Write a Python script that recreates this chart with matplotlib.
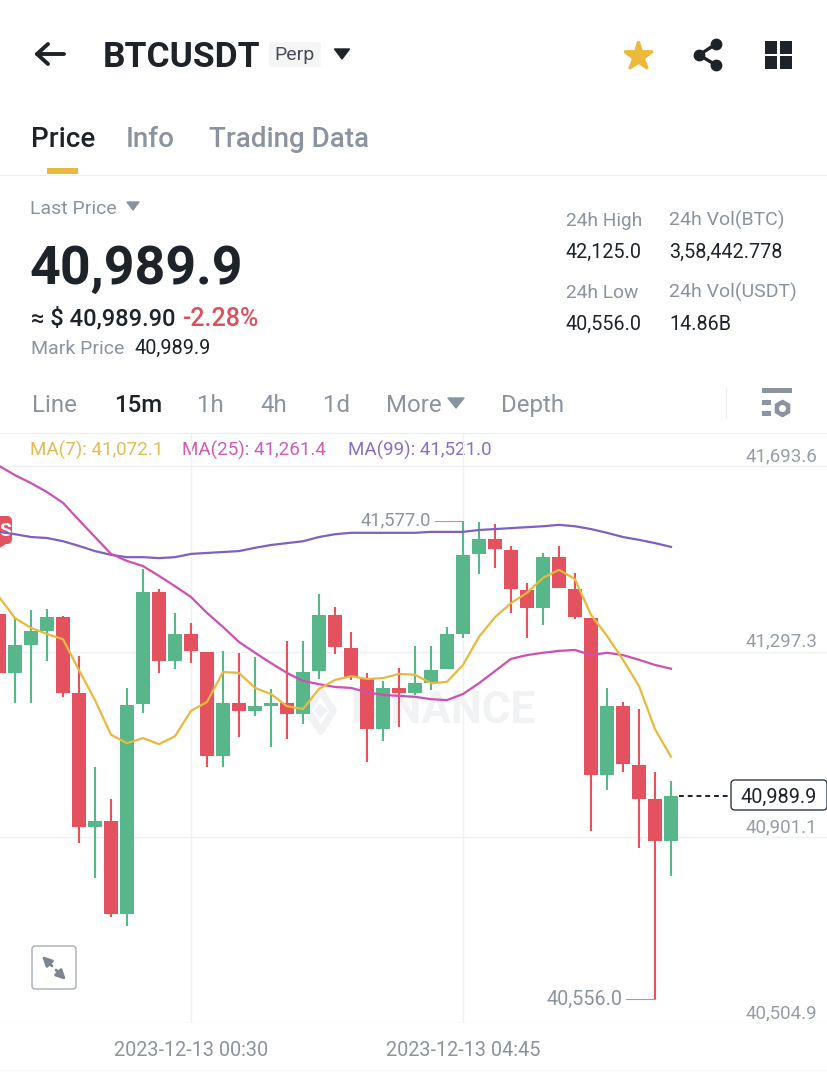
import matplotlib
matplotlib.use("Agg")
import matplotlib.pyplot as plt
from matplotlib.patches import FancyBboxPatch, Rectangle, Polygon

plt.rcParams["font.family"] = ["Roboto", "DejaVu Sans"]

# === Candles (15m) ===
opens = [41378, 41252, 41312, 41341, 41371, 41209, 40923, 40936, 40737, 41186, 41425, 41277, 41335, 41297,
         41075, 41188, 41171, 41181, 41188, 41164, 41256, 41376, 41305, 41239, 41132, 41220, 41209, 41230,
         41260, 41335, 41506, 41538, 41514, 41429, 41391, 41499, 41431, 41369, 41034, 41181, 41056, 40983, 40893]
highs = [41378, 41369, 41386, 41388, 41373, 41288, 41051, 40983, 41220, 41474, 41431, 41380, 41358, 41297,
         41299, 41295, 41286, 41218, 41320, 41320, 41420, 41393, 41339, 41252, 41235, 41263, 41309, 41309,
         41350, 41577, 41574, 41570, 41523, 41444, 41508, 41523, 41465, 41369, 41220, 41190, 41175, 41041, 41021]
lows = [41252, 41188, 41188, 41277, 41201, 40889, 40814, 40731, 40712, 41166, 41252, 41260, 41273, 41051,
        41051, 41115, 41160, 41094, 41111, 41143, 41239, 41292, 41237, 41062, 41107, 41137, 41205, 41216,
        41260, 41327, 41463, 41476, 41380, 41327, 41354, 41433, 41367, 40915, 41002, 41041, 40878, 40556, 40819]
closes = [41252, 41312, 41341, 41371, 41209, 40923, 40936, 40737, 41183, 41425, 41277, 41335, 41299, 41075,
          41188, 41171, 41181, 41188, 41164, 41254, 41376, 41307, 41243, 41132, 41220, 41209, 41230, 41258,
          41335, 41504, 41538, 41516, 41431, 41391, 41499, 41433, 41371, 41034, 41181, 41058, 40983, 40893, 40989.9]

ma7 = [41414, 41369, 41348, 41335, 41324, 41258, 41194, 41120, 41102, 41113, 41100, 41117, 41171, 41190,
       41254, 41252, 41220, 41207, 41181, 41175, 41218, 41237, 41245, 41239, 41241, 41250, 41248, 41230,
       41233, 41269, 41329, 41371, 41401, 41423, 41455, 41472, 41452, 41376, 41331, 41280, 41224, 41132, 41073]
ma25 = [41694, 41674, 41657, 41638, 41615, 41578, 41542, 41506, 41491, 41480, 41459, 41437, 41414, 41380,
        41350, 41318, 41295, 41273, 41252, 41235, 41228, 41222, 41220, 41211, 41205, 41203, 41201, 41196,
        41194, 41207, 41230, 41256, 41282, 41290, 41295, 41299, 41301, 41290, 41295, 41290, 41280, 41269, 41261]
ma99 = [41553, 41548, 41542, 41540, 41533, 41523, 41512, 41504, 41499, 41499, 41497, 41499, 41506, 41508,
        41510, 41512, 41519, 41525, 41529, 41533, 41542, 41548, 41551, 41551, 41551, 41551, 41551, 41553,
        41553, 41553, 41557, 41559, 41561, 41563, 41565, 41568, 41565, 41559, 41551, 41542, 41536, 41529, 41521]

y_grid = [41693.6, 41297.3, 40901.1, 40504.9]
time_pos = [12, 29]
time_labels = ["2023-12-13 00:30", "2023-12-13 04:45"]
last_price = 40989.9
high_label = (29, 41577.0)
low_label = (41, 40556.0)

GREEN = "#58b68b"
RED = "#e4525f"
DARK = "#1e2329"
GREY = "#8b939f"
LINE = "#eef0f2"
YELLOW = "#e9b93e"
MARK = "#f1f2f3"

fig = plt.figure(figsize=(8.28, 10.82), dpi=100)

# === Chart area: y px 433..1023, one candle is 16 px ===
ax = fig.add_axes([0, (1082 - 1023) / 1082, 1, (1023 - 433) / 1082], zorder=5)
ax.set_xlim(1 / 16, 829 / 16)
ax.set_ylim(40504.9, 41764.0)
ax.patch.set_alpha(0)
for s in ax.spines.values():
    s.set_visible(False)
ax.set_yticks(y_grid)
ax.set_yticklabels([])
ax.set_xticks(time_pos)
ax.set_xticklabels(time_labels, fontsize=14.3, color=GREY)
ax.tick_params(length=0, pad=13)
ax.grid(True, color=LINE, lw=1)
ax.set_axisbelow(True)

# watermark
ax.text(27.75, 41171, "BINANCE", fontsize=31.5, fontweight="bold", color=MARK, ha="center", va="center", zorder=1)
ax.plot([19.3, 20.1, 20.9, 20.1, 19.3], [41171, 41215, 41171, 41127, 41171], color=MARK, lw=5, zorder=1)
ax.plot([20.1], [41171], marker="D", ms=7, color=MARK, mew=0, zorder=1)

for i in range(len(closes)):
    col = GREEN if closes[i] >= opens[i] else RED
    ax.vlines(i, lows[i], highs[i], color=col, lw=1.5, zorder=3)
    ax.bar(i, abs(closes[i] - opens[i]), bottom=min(opens[i], closes[i]), width=0.87, color=col, zorder=3)

xs = list(range(len(closes)))
ax.plot(xs, ma99, color="#7e5fc2", lw=1.6, zorder=4)
ax.plot(xs, ma25, color="#cf4fb2", lw=1.6, zorder=4)
ax.plot(xs, ma7, color=YELLOW, lw=1.6, zorder=5)

for v in y_grid:
    ax.annotate(f"{v:,.1f}", (1, v), xycoords=("axes fraction", "data"), xytext=(-11, 1), textcoords="offset pixels",
                ha="right", va="bottom", fontsize=13.5, color="#969da8")

# high / low callouts
ax.plot([high_label[0] - 1.75, high_label[0]], [high_label[1], high_label[1]], color="#9aa0aa", lw=0.8, zorder=2)
ax.annotate(f"{high_label[1]:,.1f}", (high_label[0] - 2, high_label[1]), ha="right", va="center", fontsize=13.2, color=GREY)
ax.plot([low_label[0] - 1.8, low_label[0]], [low_label[1], low_label[1]], color="#9aa0aa", lw=0.8, zorder=2)
ax.annotate(f"{low_label[1]:,.1f}", (low_label[0] - 2, low_label[1]), ha="right", va="center", fontsize=14.2, color=GREY)

# last price line
ax.plot([42.5, 45.7], [last_price, last_price], color=DARK, lw=1.4, ls=(0, (2.5, 2)), zorder=4)

# === UI in pixel coordinates, behind the chart lines ===
ui = fig.add_axes([0, 0, 1, 1], zorder=1)
ui.set_xlim(0, 828)
ui.set_ylim(1082, 0)
ui.axis("off")


def txt(x, y, s, size, color=DARK, weight="normal", ha="left"):
    ui.text(x, y + 2.5, s, fontsize=size, color=color, fontweight=weight, ha=ha, va="center")


def tri(cx, cy, w, h, color):
    ui.add_patch(Polygon([[cx - w / 2, cy - h / 2], [cx + w / 2, cy - h / 2], [cx, cy + h / 2]],
                         closed=True, color=color, joinstyle="round", lw=1))


# header
ui.plot([37, 64], [54, 54], color=DARK, lw=2.8, solid_capstyle="round")
ui.plot([48, 37, 48], [44, 54, 64], color=DARK, lw=2.8, solid_capstyle="round")
txt(103, 55, "BTCUSDT", 25.5, weight="bold")
ui.add_patch(FancyBboxPatch((270, 43), 50, 23, boxstyle="round,pad=1,rounding_size=3", fc="#f5f5f5", ec="none"))
txt(295, 53, "Perp", 14, "#474d57", ha="center")
tri(342, 54, 15, 10, DARK)
ui.plot([638], [56], marker="*", ms=21, color="#edb93b", mec="#edb93b", mew=2)
ui.plot([716, 699, 716], [44, 55, 65], color=DARK, lw=2.4)
ui.plot([716, 699, 716], [44, 55, 65], ls="none", marker="o", ms=7.5, color=DARK)
for gx in (765, 780):
    for gy in (41, 56):
        ui.add_patch(Rectangle((gx, gy), 12.5, 12.5, color=DARK, lw=0))

# tabs
txt(31, 137, "Price", 20, weight="medium")
txt(126, 137, "Info", 20, GREY, "medium")
txt(209, 137, "Trading Data", 20, GREY, "medium")
ui.add_patch(Rectangle((47, 168), 31, 6, color=YELLOW, lw=0))
ui.plot([0, 828], [175, 175], color=LINE, lw=1)

# price block
txt(30, 206, "Last Price", 14, GREY)
tri(133, 206, 12, 8, GREY)
txt(30, 267, "40,989.9", 38.7, weight="bold")
txt(31, 316, "≈ $ 40,989.90", 17, weight="medium")
txt(182, 316, "-2.28%", 18, "#de4f5c", "medium")
txt(31, 346, "Mark Price", 14, GREY)
txt(134, 346, "40,989.9", 14.3)

txt(566, 218, "24h High", 13.8, GREY)
txt(669, 218, "24h Vol(BTC)", 14, GREY)
txt(566, 250, "42,125.0", 14.2)
txt(669, 250, "3,58,442.778", 14.2)
txt(566, 290, "24h Low", 13.8, GREY)
txt(669, 290, "24h Vol(USDT)", 14, GREY)
txt(566, 322, "40,556.0", 14.2)
txt(669, 322, "14.86B", 14.2)

# interval row
txt(32, 403, "Line", 17.3, GREY)
txt(114, 403, "15m", 17.3, weight="medium")
txt(197, 403, "1h", 17.3, GREY)
txt(260, 403, "4h", 17.3, GREY)
txt(323, 403, "1d", 17.3, GREY)
txt(386, 403, "More", 17.3, GREY)
tri(456, 403, 16, 10, GREY)
txt(501, 403, "Depth", 17.3, GREY)
ui.plot([726, 726], [388, 418], color=LINE, lw=1)
ui.add_patch(Rectangle((762, 388), 30, 5, color=GREY, lw=0))
ui.add_patch(Rectangle((762, 400), 9, 5, color=GREY, lw=0))
ui.add_patch(Rectangle((762, 411), 9, 5, color=GREY, lw=0))
ui.plot([782], [408], marker="h", ms=13, color=GREY, mew=0)
ui.plot([782], [408], marker="o", ms=5, color="white", mew=0)
ui.plot([0, 828], [433, 433], color=LINE, lw=1)
ui.plot([0, 828], [1070, 1070], color="#f5f6f7", lw=1)

# legend row
txt(30, 448, "MA(7): 41,072.1", 13.5, "#e3bb55")
txt(182, 448, "MA(25): 41,261.4", 13.5, "#d05bb5")
txt(348, 448, "MA(99): 41,521.0", 13.5, "#8a6fc4")

# order badge at left edge
ui.add_patch(FancyBboxPatch((-12, 518), 22, 24, boxstyle="round,pad=2,rounding_size=5", fc=RED, ec="none"))
ui.add_patch(Polygon([[-2, 544], [6, 544], [-2, 549]], closed=True, color=RED, lw=0))
txt(5.5, 528, "S", 14, "white", "bold", ha="center")

# last price tag
ui.add_patch(FancyBboxPatch((733, 782), 92, 26, boxstyle="round,pad=2,rounding_size=4", fc="white", ec="#333a44", lw=1))
txt(779, 795, f"{last_price:,.1f}", 14.3, DARK, ha="center")

# expand button
ui.add_patch(FancyBboxPatch((34, 948), 40, 39, boxstyle="round,pad=2,rounding_size=3", fc="white", ec="#a8adb5", lw=1))
ui.annotate("", (42, 956), (52, 966), arrowprops=dict(arrowstyle="-|>", color="#7d8591", lw=2, mutation_scale=14, shrinkA=0, shrinkB=0))
ui.annotate("", (66, 980), (56, 970), arrowprops=dict(arrowstyle="-|>", color="#7d8591", lw=2, mutation_scale=14, shrinkA=0, shrinkB=0))

fig.savefig("out.png", dpi=100, facecolor="white")
